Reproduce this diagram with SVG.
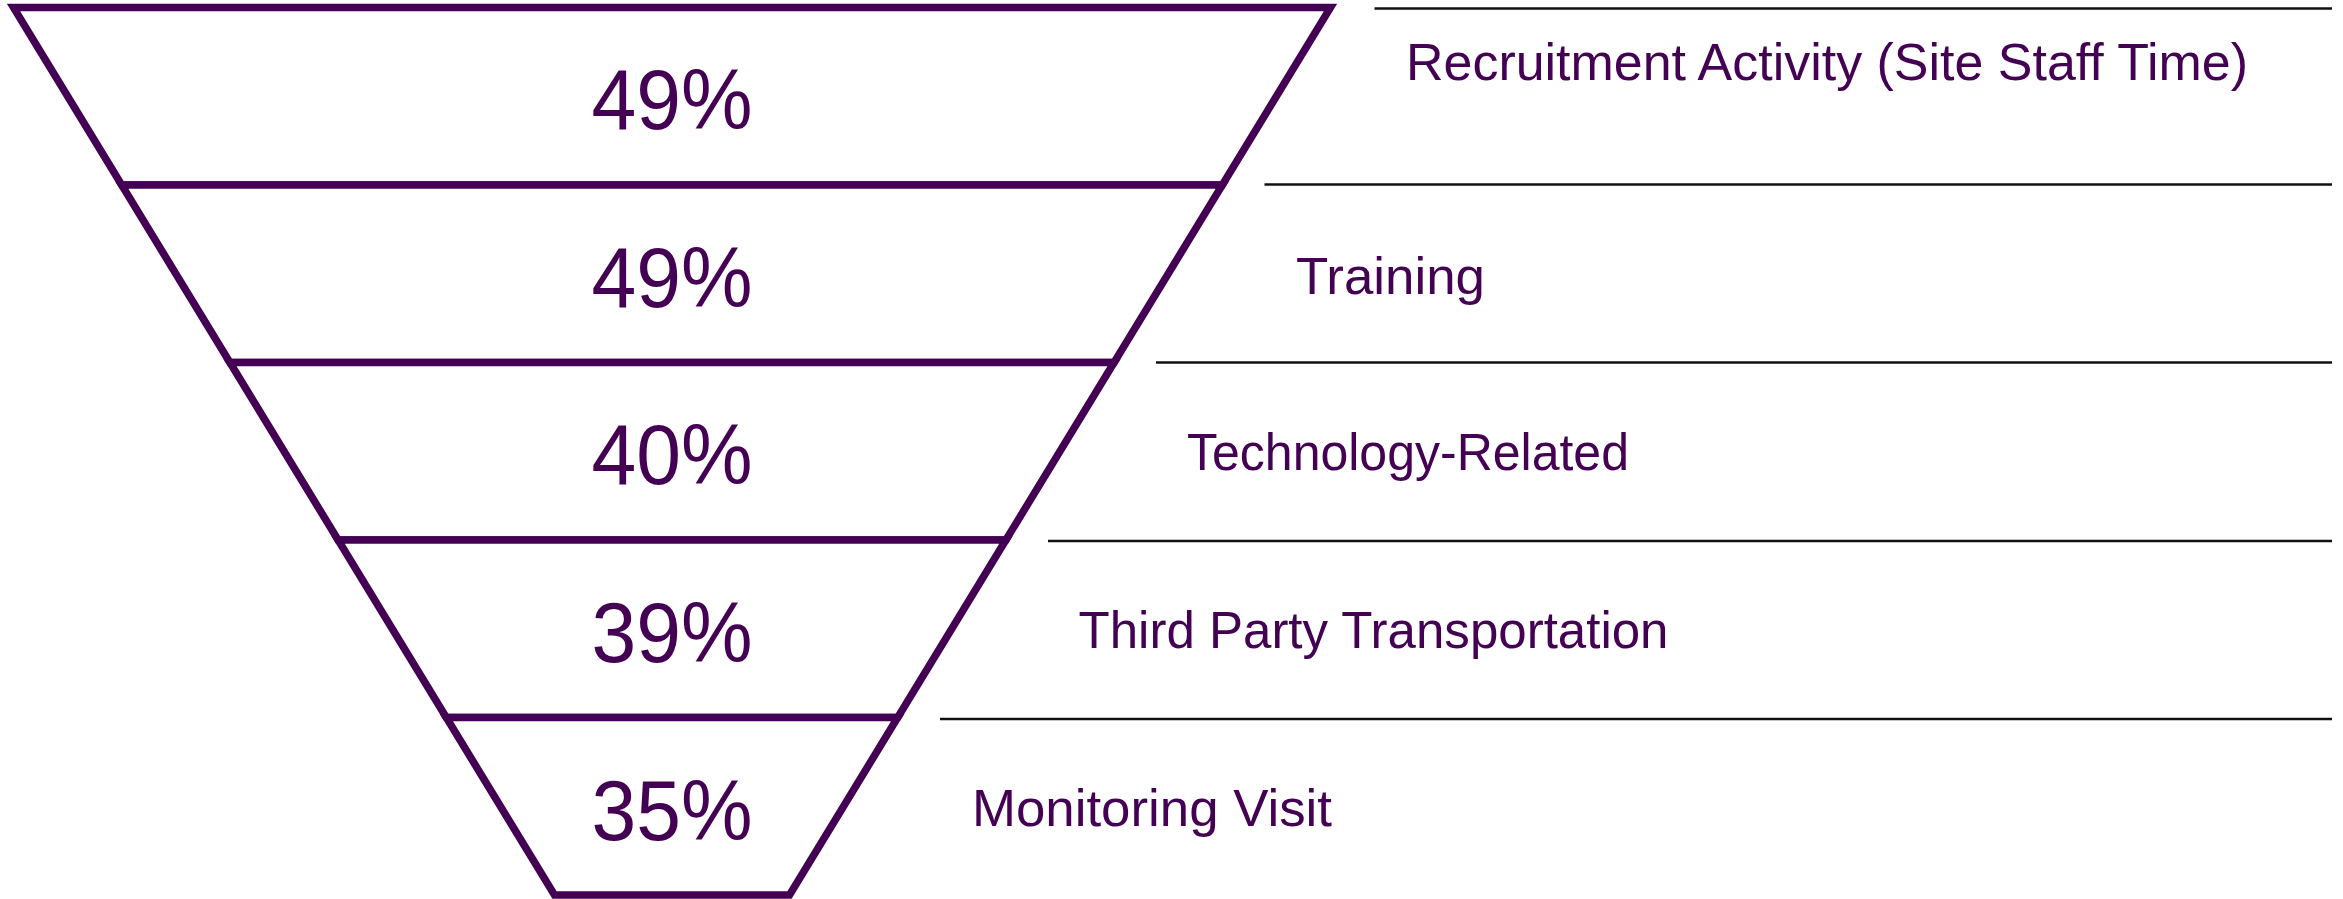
<svg xmlns="http://www.w3.org/2000/svg" width="2343" height="899" viewBox="0 0 2343 899">
<style>
.band{fill:#ffffff;stroke:#440154;stroke-width:7.5;stroke-linejoin:miter}
.pct{font-family:"Liberation Sans",Arial,sans-serif;font-size:86px;fill:#440154;text-anchor:middle}
.lbl{font-family:"Liberation Sans",Arial,sans-serif;font-size:52px;fill:#440154}
.lead{stroke:#111111;stroke-width:2.5;fill:none}
</style>
<rect x="0" y="0" width="2343" height="899" fill="#ffffff"/>
<g id="connectors">
<line class="lead" x1="1374.5" y1="8.5" x2="2332" y2="8.5"/>
<line class="lead" x1="1264.5" y1="184.5" x2="2332" y2="184.5"/>
<line class="lead" x1="1156" y1="362.5" x2="2332" y2="362.5"/>
<line class="lead" x1="1048" y1="541" x2="2332" y2="541"/>
<line class="lead" x1="940" y1="719" x2="2332" y2="719"/>
</g>
<g id="band-1">
<polygon class="band" points="13.5,7.5 1330.5,7.5 1222.3,185 121.7,185"/>
<text class="pct" x="672" y="129" textLength="161" lengthAdjust="spacingAndGlyphs">49%</text>
</g>
<g id="band-2">
<polygon class="band" points="121.7,185 1222.3,185 1114.1,362.5 229.9,362.5"/>
<text class="pct" x="672" y="307" textLength="161" lengthAdjust="spacingAndGlyphs">49%</text>
</g>
<g id="band-3">
<polygon class="band" points="229.9,362.5 1114.1,362.5 1005.9,540 338.1,540"/>
<text class="pct" x="672" y="484" textLength="161" lengthAdjust="spacingAndGlyphs">40%</text>
</g>
<g id="band-4">
<polygon class="band" points="338.1,540 1005.9,540 897.7,717.5 446.3,717.5"/>
<text class="pct" x="672" y="662" textLength="161" lengthAdjust="spacingAndGlyphs">39%</text>
</g>
<g id="band-5">
<polygon class="band" points="446.3,717.5 897.7,717.5 789.5,895 554.5,895"/>
<text class="pct" x="672" y="840" textLength="161" lengthAdjust="spacingAndGlyphs">35%</text>
</g>
<g id="label-1"><text class="lbl" x="1406" y="80" textLength="842" lengthAdjust="spacingAndGlyphs">Recruitment Activity (Site Staff Time)</text></g>
<g id="label-2"><text class="lbl" x="1296" y="294" textLength="189" lengthAdjust="spacingAndGlyphs">Training</text></g>
<g id="label-3"><text class="lbl" x="1187" y="470" textLength="442" lengthAdjust="spacingAndGlyphs">Technology-Related</text></g>
<g id="label-4"><text class="lbl" x="1078.5" y="648" textLength="590" lengthAdjust="spacingAndGlyphs">Third Party Transportation</text></g>
<g id="label-5"><text class="lbl" x="972" y="826" textLength="360" lengthAdjust="spacingAndGlyphs">Monitoring Visit</text></g>
</svg>
